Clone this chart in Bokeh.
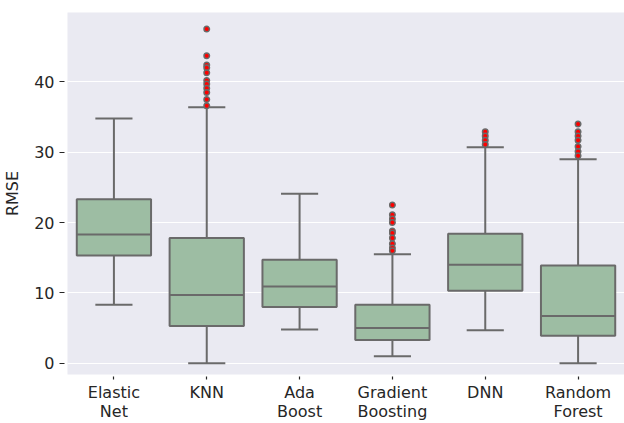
from bokeh.plotting import figure
from bokeh.models import FixedTicker, Range1d
from bokeh.embed import file_html
from bokeh.resources import INLINE

categories = ["Elastic\nNet", "KNN", "Ada\nBoost", "Gradient\nBoosting", "DNN", "Random\nForest"]
q1 = [15.3, 5.3, 8.0, 3.3, 10.3, 3.9]
median = [18.3, 9.7, 10.9, 5.0, 14.0, 6.7]
q3 = [23.3, 17.8, 14.7, 8.3, 18.4, 13.9]
whisker_low = [8.3, 0.0, 4.8, 1.0, 4.7, 0.0]
whisker_high = [34.8, 36.4, 24.1, 15.5, 30.7, 29.0]
outliers = [
    [],
    [47.5, 43.7, 42.4, 42.0, 41.3, 40.2, 39.7, 39.1, 38.5, 37.5, 36.6],
    [],
    [22.5, 21.1, 20.5, 20.0, 18.8, 18.5, 17.8, 17.0, 16.4, 16.0],
    [32.9, 32.3, 31.7, 31.1],
    [34.0, 32.9, 32.3, 31.7, 30.8, 30.1, 29.5],
]
y_ticks = [0, 10, 20, 30, 40]

BOX = "#9dbda3"
EDGE = "#6a6a6a"
TXT = "#262626"
FONT = "DejaVu Sans"
FS = "16px"

xs = list(range(len(categories)))

p = figure(width=624, height=423, output_backend="svg", toolbar_location=None,
           x_range=Range1d(-0.5, 5.5), y_range=Range1d(-1.6, 49.86),
           min_border_left=66, min_border_right=0, min_border_top=12, min_border_bottom=45)
p.background_fill_color = "#eaeaf2"
p.border_fill_color = "white"
p.outline_line_color = None
p.xgrid.grid_line_color = None
p.ygrid.grid_line_color = "white"
p.ygrid.grid_line_width = 1.2

# whiskers
p.segment(x0=xs, y0=q3, x1=xs, y1=whisker_high, line_color=EDGE, line_width=2)
p.segment(x0=xs, y0=q1, x1=xs, y1=whisker_low, line_color=EDGE, line_width=2)
# caps
p.segment(x0=[x - 0.2 for x in xs], y0=whisker_high, x1=[x + 0.2 for x in xs], y1=whisker_high,
          line_color=EDGE, line_width=2)
p.segment(x0=[x - 0.2 for x in xs], y0=whisker_low, x1=[x + 0.2 for x in xs], y1=whisker_low,
          line_color=EDGE, line_width=2)
# boxes
p.vbar(x=xs, width=0.8, bottom=q1, top=q3, fill_color=BOX, line_color=EDGE, line_width=2)
# medians
p.segment(x0=[x - 0.4 for x in xs], y0=median, x1=[x + 0.4 for x in xs], y1=median,
          line_color=EDGE, line_width=2)
# outliers
ox, oy = [], []
for i, vals in enumerate(outliers):
    for v in vals:
        ox.append(i)
        oy.append(v)
p.scatter(x=ox, y=oy, size=5.5, fill_color="red", line_color=EDGE, line_width=1.5)

p.xaxis.ticker = FixedTicker(ticks=xs)
p.xaxis.major_label_overrides = {i: c for i, c in enumerate(categories)}
p.yaxis.ticker = FixedTicker(ticks=y_ticks)
p.xaxis.minor_tick_line_color = None
p.yaxis.minor_tick_line_color = None
for ax in (p.xaxis[0], p.yaxis[0]):
    ax.axis_line_color = None
    ax.major_tick_line_color = TXT
    ax.major_tick_line_width = 1.2
    ax.major_label_text_font = FONT
    ax.major_label_text_font_size = FS
    ax.major_label_text_color = TXT
p.xaxis.major_label_text_line_height = 1.0
p.yaxis.major_tick_in = -3
p.yaxis.major_tick_out = 8
p.yaxis.major_label_standoff = 5
p.xaxis.major_tick_in = -2
p.xaxis.major_tick_out = 5
p.xaxis.major_label_standoff = 3
p.yaxis.axis_label = "RMSE"
p.yaxis.axis_label_text_font = FONT
p.yaxis.axis_label_text_font_size = FS
p.yaxis.axis_label_text_font_style = "normal"
p.yaxis.axis_label_text_color = TXT
p.yaxis.axis_label_standoff = 9

open("out.html", "w").write(file_html(p, INLINE))
